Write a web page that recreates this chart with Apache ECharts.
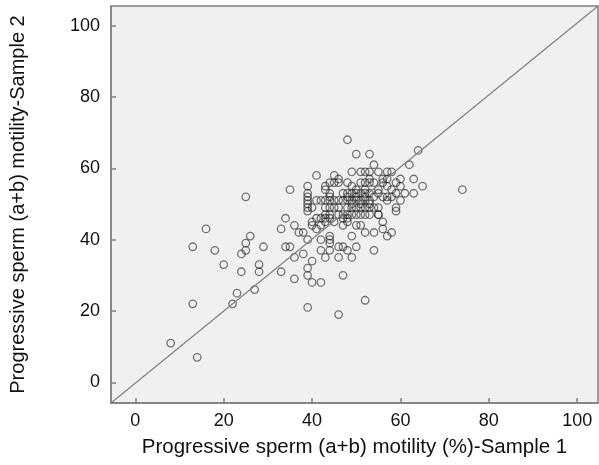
<!DOCTYPE html>
<html>
<head>
<meta charset="utf-8">
<script src="https://cdn.jsdelivr.net/npm/echarts@6/dist/echarts.min.js"></script>
<style>
  html, body { margin: 0; padding: 0; background: #fff; }
  #chart { width: 599px; height: 465px; }
</style>
</head>
<body>
<div id="chart"></div>
<script>
// motility (%) per subject, sample 1 vs sample 2
var sample1 = [
  8, 14, 13, 22, 23, 27, 13, 16, 18, 25, 26, 25, 25, 24, 29, 20, 24, 28, 28, 39, 46, 52, 33, 36, 39, 40, 42, 47, 39, 40, 36, 38,
  42, 43, 46, 46, 49, 50, 48, 47, 44, 54, 49, 52, 54, 57, 58, 44, 44, 42, 39, 36, 34, 33, 37, 38, 40, 41, 34, 35, 42, 43, 44, 46, 47, 44, 56, 56, 55, 59, 48, 50, 51, 47, 45, 43,
  64, 62, 63, 65, 63, 74, 48, 50, 53, 54, 41, 39, 45, 49, 51, 52, 53, 55, 57, 58, 61, 59, 60, 60, 59, 58, 57, 56, 56, 58, 55, 54, 55, 54, 45, 43, 39, 52, 53, 51, 55, 57, 48, 49, 53, 56, 57, 60, 59, 57, 55, 54, 35, 46, 46, 44, 43,
  39, 39, 39, 39, 41, 42, 43, 44, 45, 47, 44, 44, 39, 40, 44, 43, 45, 46, 48, 49, 50, 51, 52, 53, 48, 49, 50, 51, 52, 53, 48, 49, 50, 51, 52, 53, 48, 50, 52, 48, 49, 50, 51, 52, 53, 48, 47, 44, 43, 42, 41, 40, 51, 49, 53, 50, 52, 47, 46
];
var sample2 = [
  11, 7, 22, 22, 25, 26, 38, 43, 37, 52, 41, 39, 37, 36, 38, 33, 31, 33, 31, 21, 19, 23, 31, 29, 30, 28, 28, 30, 32, 34, 35, 36,
  37, 35, 35, 38, 35, 38, 37, 38, 37, 37, 41, 42, 42, 41, 42, 41, 40, 40, 40, 44, 46, 43, 42, 42, 44, 43, 38, 38, 44, 45, 46, 47, 47, 39, 43, 45, 47, 48, 45, 44, 44, 44, 45, 46,
  65, 61, 57, 55, 53, 54, 68, 64, 64, 61, 58, 55, 58, 59, 59, 59, 59, 59, 59, 59, 53, 49, 51, 55, 56, 54, 55, 56, 52, 52, 47, 49, 49, 52, 56, 55, 53, 56, 56, 56, 54, 52, 56, 55, 57, 57, 57, 57, 53, 51, 53, 56, 54, 56, 57, 56, 54,
  52, 51, 49, 48, 51, 51, 51, 51, 51, 51, 53, 52, 50, 49, 49, 49, 49, 49, 49, 49, 49, 49, 49, 49, 51, 51, 51, 51, 51, 51, 53, 53, 53, 53, 53, 53, 52, 52, 52, 47, 47, 47, 47, 47, 47, 46, 46, 47, 47, 46, 46, 45, 50, 50, 50, 54, 54, 53, 51
];
var xRange = [-5.5, 104.7];
var yRange = [-5.8, 105.5];
var tickValues = [0, 20, 40, 60, 80, 100];
var xName = 'Progressive sperm (a+b) motility (%)-Sample 1';
var yName = 'Progressive sperm (a+b) motility-Sample 2';

var points = [];
for (var i = 0; i < sample1.length; i++) {
    points.push([sample1[i], sample2[i]]);
}

var chart = echarts.init(document.getElementById('chart'));
var font = 'Liberation Sans, Arial, sans-serif';

var axisCommon = {
    type: 'value',
    nameLocation: 'middle',
    nameTextStyle: { color: '#111', fontSize: 20.5, fontFamily: font },
    axisLine: { show: true, onZero: false, lineStyle: { color: '#808080', width: 1.5 } },
    axisTick: { show: true, inside: true, length: 5, customValues: tickValues, lineStyle: { color: '#808080', width: 1.5 } },
    axisLabel: { customValues: tickValues, color: '#111', fontSize: 18, fontFamily: font },
    splitLine: { show: false }
};

var option = {
    backgroundColor: '#ffffff',
    animation: false,
    grid: {
        left: 110, right: 1, top: 6, bottom: 62,
        show: true,
        backgroundColor: '#f0f0f0',
        borderColor: '#808080',
        borderWidth: 1.5
    },
    xAxis: Object.assign({}, axisCommon, {
        min: xRange[0], max: xRange[1],
        name: xName, nameGap: 34,
        axisLabel: Object.assign({}, axisCommon.axisLabel, { margin: 9 })
    }),
    yAxis: Object.assign({}, axisCommon, {
        min: yRange[0], max: yRange[1],
        name: yName, nameGap: 83,
        nameTextStyle: { color: '#111', fontSize: 20, fontFamily: font },
        axisLabel: Object.assign({}, axisCommon.axisLabel, { margin: 11 })
    }),
    series: [
        {
            type: 'line',
            data: [[xRange[0], yRange[0]], [xRange[1], yRange[1]]],
            symbol: 'none',
            lineStyle: { color: '#808080', width: 1.2 },
            silent: true
        },
        {
            type: 'scatter',
            data: points,
            symbol: 'circle',
            symbolSize: 7.5,
            itemStyle: { color: 'rgba(0,0,0,0)', borderColor: 'rgba(30,30,30,0.75)', borderWidth: 1.3 }
        }
    ]
};
chart.setOption(option);
</script>
</body>
</html>
